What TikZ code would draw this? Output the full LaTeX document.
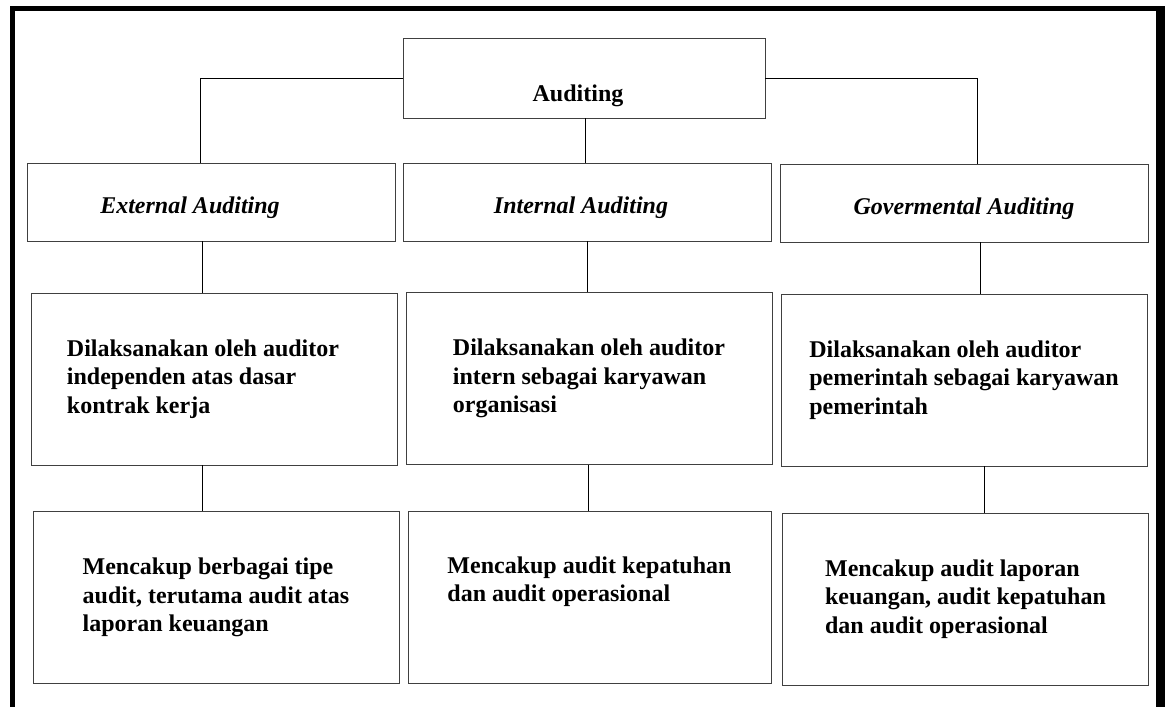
\documentclass[tikz,border=0pt]{standalone}
\usepackage{fontspec}
\setmainfont{Liberation Serif}

\begin{document}
\begin{tikzpicture}[x=1pt, y=-1pt,
	box/.style = {draw=black!75, line width=0.9pt, inner sep=0pt, align=left, font=\bfseries\fontsize{24}{28.5}\selectfont},
	head/.style = {box, minimum width=368pt, minimum height=78pt, font=\bfseries\itshape\fontsize{24}{28}\selectfont, text height=22pt, text depth=0pt},
	desc/.style = {box, minimum width=366pt, minimum height=172pt},
	link/.style = {draw=black, line width=0.8pt}]
	\useasboundingbox (0,0) rectangle (1165,707);
	% frame
	\draw[line width=5pt] (12,707) -- (12,8.5) -- (1160,8.5);
	\draw[line width=9pt] (1160.5,6) -- (1160.5,707);
	% boxes
	\node[box, minimum width=362pt, minimum height=80pt, text height=46pt, text depth=0pt] (audit) at (584,78) {Auditing\hspace*{12pt}};
	\node[head] (ext2) at (211,202) {External Auditing\hspace*{42pt}};
	\node[head] (int2) at (587,202) {Internal Auditing\hspace*{12pt}};
	\node[head] (gov2) at (964,203) {Govermental Auditing};
	\node[desc] (ext3) at (214,379) {Dilaksanakan oleh auditor\hspace*{22pt}\\ independen atas dasar\\ kontrak kerja};
	\node[desc] (int3) at (589,378.5) {Dilaksanakan oleh auditor\\ intern sebagai karyawan\\ organisasi};
	\node[desc] (gov3) at (964,380) {Dilaksanakan oleh auditor\\ pemerintah sebagai karyawan\\ pemerintah};
	\node[desc] (ext4) at (216,597.5) {Mencakup berbagai tipe\\ audit, terutama audit atas\\ laporan keuangan};
	\node[desc, minimum width=363pt] (int4) at (589.5,597.5) {Mencakup audit kepatuhan\\ dan audit operasional\\ \strut};
	\node[desc] (gov4) at (965.5,599) {Mencakup audit laporan\\ keuangan, audit kepatuhan\\ dan audit operasional};
	% connectors
	\draw[link] (audit.west) -| ([xshift=-11pt]ext2.north);
	\draw[link] (audit.east) -| ([xshift=13pt]gov2.north);
	\draw[link] ([xshift=1pt]audit.south) -- ([xshift=1pt]audit.south |- int2.north);
	\draw[link] ([xshift=-9pt]ext2.south) -- ([xshift=-9pt]ext2.south |- ext3.north);
	\draw[link] (int2.south) -- (int2.south |- int3.north);
	\draw[link] ([xshift=16pt]gov2.south) -- ([xshift=16pt]gov2.south |- gov3.north);
	\draw[link] ([xshift=-12pt]ext3.south) -- ([xshift=-12pt]ext3.south |- ext4.north);
	\draw[link] ([xshift=-1pt]int3.south) -- ([xshift=-1pt]int3.south |- int4.north);
	\draw[link] ([xshift=20pt]gov3.south) -- ([xshift=20pt]gov3.south |- gov4.north);
\end{tikzpicture}
\end{document}
